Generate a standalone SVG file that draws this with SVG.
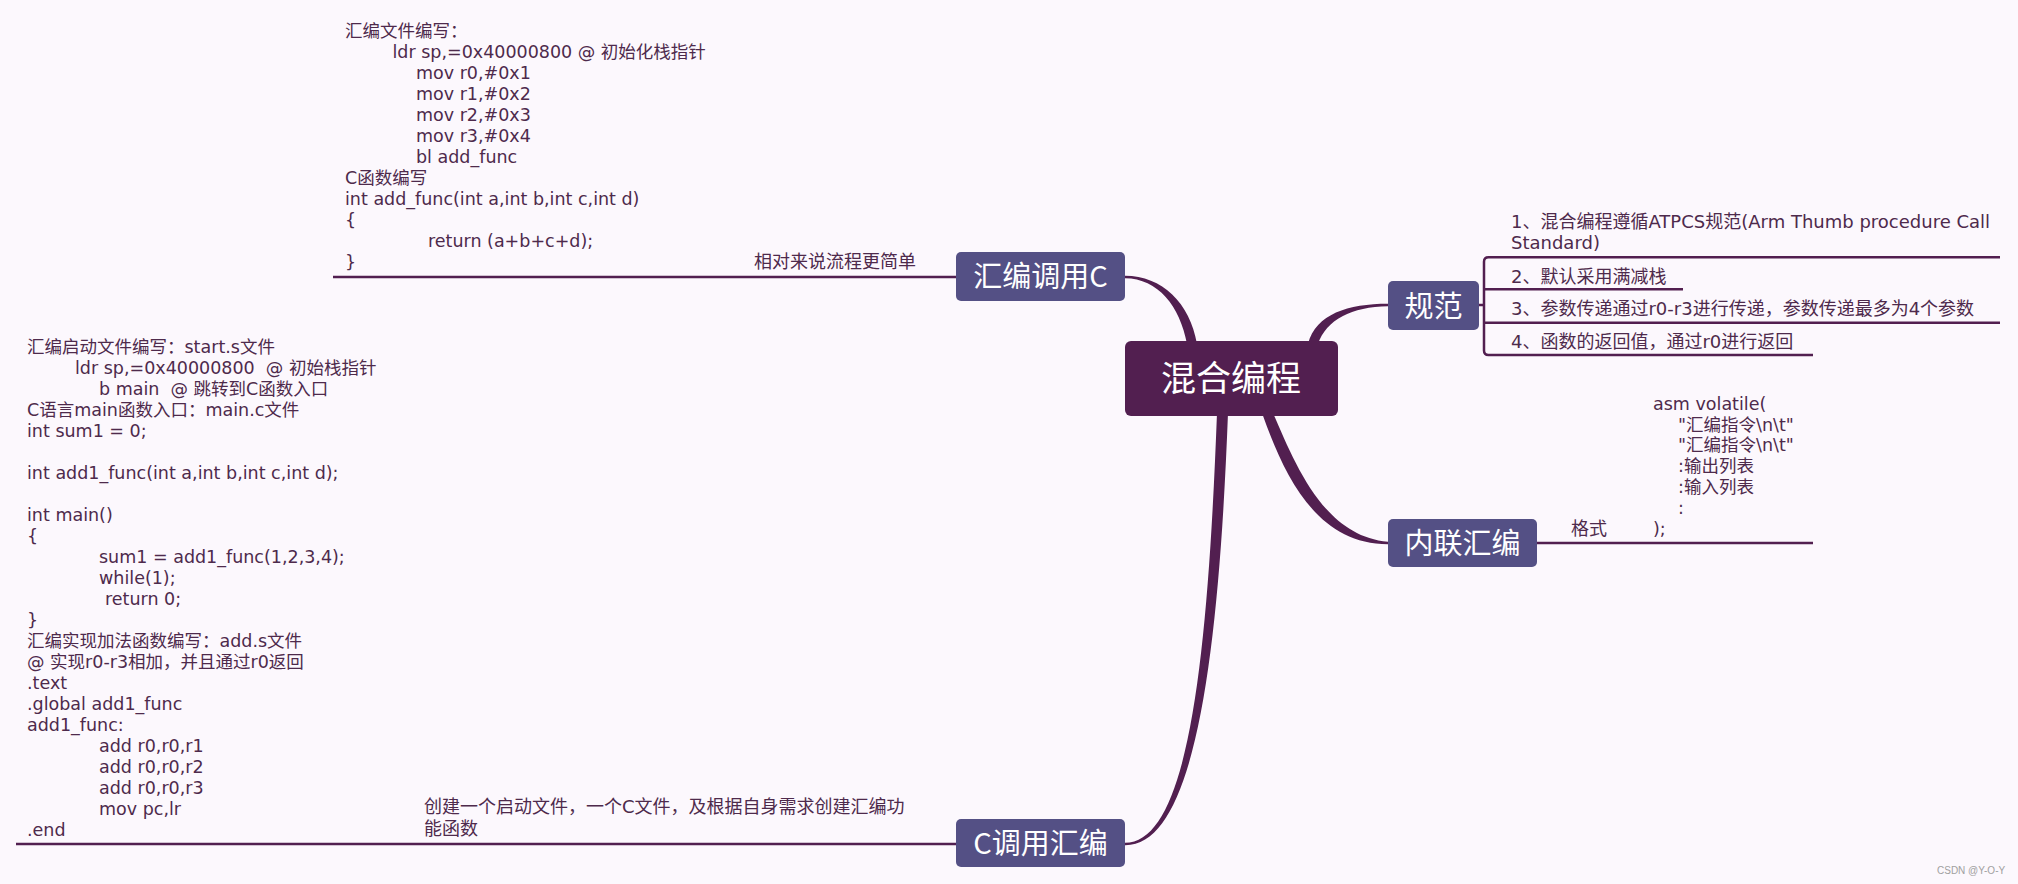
<svg xmlns="http://www.w3.org/2000/svg" width="2018" height="884" viewBox="0 0 2018 884">
<defs>
<style>
.bg{fill:#FCF8FD}
.code{font-family:"DejaVu Sans","Noto Sans CJK SC",sans-serif;font-size:17.5px;fill:#4E2A4C;white-space:pre}
.lbl{font-family:"DejaVu Sans","Noto Sans CJK SC",sans-serif;font-size:18px;fill:#4E2A4C;white-space:pre}
.topic rect{fill:#545085}
.topic text{font-family:"Noto Sans CJK SC","DejaVu Sans",sans-serif;font-size:29px;fill:#FFFFFF;text-anchor:middle}
.central rect{fill:#521F50}
.central text{font-family:"Noto Sans CJK SC","DejaVu Sans",sans-serif;font-size:35px;fill:#FFFFFF;text-anchor:middle}
.ln{fill:none;stroke:#521F50;stroke-width:2.5}
.br{fill:#521F50;stroke:none}
.wm{font-family:"Liberation Sans",Arial,sans-serif;font-size:10px;fill:#A0A0A0}
</style>
</defs>
<rect class="bg" x="0" y="0" width="2018" height="884"/>

<g id="connectors">
  <path class="br" d="M1197,344 C1190,303 1162,275.8 1125,275.8 L1125,278.2 C1158,278.5 1180,306 1187,344 Z"/>
  <path class="br" d="M1308,344 C1316,314 1348,303.8 1388,303.8 L1388,306.2 C1352,306.5 1326,320 1318,344 Z"/>
  <path class="br" d="M1262,413 C1284,475 1316,544.2 1388,544.2 L1388,541.8 C1324,536 1296,466 1273,413 Z"/>
  <path class="br" d="M1217,413 C1208,650 1190,842.8 1125,842.8 L1125,845.2 C1196,846 1219,650 1228,413 Z"/>
  <path class="ln" d="M333,277 H956"/>
  <path class="ln" d="M16,844 H956"/>
  <path class="ln" d="M1537,543 H1813"/>
  <path class="ln" d="M1479,305 H1484"/>
  <path class="ln" d="M2000,257.3 H1488.5 Q1484,257.3 1484,261.8 V350.5 Q1484,355 1488.5,355 H1813"/>
  <path class="ln" d="M1484,289.3 H1683"/>
  <path class="ln" d="M1484,322.7 H2000"/>
</g>

<g id="central" class="central">
  <rect x="1125" y="341" width="213" height="75" rx="6"/>
  <text x="1231" y="391">混合编程</text>
</g>

<g id="node-asm-call-c" class="topic">
  <rect x="956" y="252" width="169" height="49" rx="5"/>
  <text x="1040.5" y="287">汇编调用C</text>
</g>

<g id="node-c-call-asm" class="topic">
  <rect x="956" y="819" width="169" height="48" rx="5"/>
  <text x="1040.5" y="853.5">C调用汇编</text>
</g>

<g id="node-spec" class="topic">
  <rect x="1388" y="281" width="91" height="49" rx="5"/>
  <text x="1433.5" y="316.5">规范</text>
</g>

<g id="node-inline" class="topic">
  <rect x="1388" y="519" width="149" height="48" rx="5"/>
  <text x="1462.5" y="553.5">内联汇编</text>
</g>

<g id="asm-call-c-detail">
  <text class="code" x="345" y="37">汇编文件编写：</text>
  <text class="code" x="392.5" y="58">ldr sp,=0x40000800 @ 初始化栈指针</text>
  <text class="code" x="416" y="79">mov r0,#0x1</text>
  <text class="code" x="416" y="100">mov r1,#0x2</text>
  <text class="code" x="416" y="121">mov r2,#0x3</text>
  <text class="code" x="416" y="142">mov r3,#0x4</text>
  <text class="code" x="416" y="163">bl add_func</text>
  <text class="code" x="345" y="184">C函数编写</text>
  <text class="code" x="345" y="205">int add_func(int a,int b,int c,int d)</text>
  <text class="code" x="345" y="226">{</text>
  <text class="code" x="428" y="247">return (a+b+c+d);</text>
  <text class="code" x="345" y="268">}</text>
  <text class="lbl" x="754" y="268">相对来说流程更简单</text>
</g>

<g id="c-call-asm-detail">
  <text class="code" x="27" y="353">汇编启动文件编写：start.s文件</text>
  <text class="code" x="75" y="374">ldr sp,=0x40000800  @ 初始栈指针</text>
  <text class="code" x="99" y="395">b main  @ 跳转到C函数入口</text>
  <text class="code" x="27" y="416">C语言main函数入口：main.c文件</text>
  <text class="code" x="27" y="437">int sum1 = 0;</text>
  <text class="code" x="27" y="479">int add1_func(int a,int b,int c,int d);</text>
  <text class="code" x="27" y="521">int main()</text>
  <text class="code" x="27" y="542">{</text>
  <text class="code" x="99" y="563">sum1 = add1_func(1,2,3,4);</text>
  <text class="code" x="99" y="584">while(1);</text>
  <text class="code" x="105" y="605">return 0;</text>
  <text class="code" x="27" y="626">}</text>
  <text class="code" x="27" y="647">汇编实现加法函数编写：add.s文件</text>
  <text class="code" x="27" y="668">@ 实现r0-r3相加，并且通过r0返回</text>
  <text class="code" x="27" y="689">.text</text>
  <text class="code" x="27" y="710">.global add1_func</text>
  <text class="code" x="27" y="731">add1_func:</text>
  <text class="code" x="99" y="752">add r0,r0,r1</text>
  <text class="code" x="99" y="773">add r0,r0,r2</text>
  <text class="code" x="99" y="794">add r0,r0,r3</text>
  <text class="code" x="99" y="815">mov pc,lr</text>
  <text class="code" x="27" y="836">.end</text>
  <text class="lbl" x="424" y="813">创建一个启动文件，一个C文件，及根据自身需求创建汇编功</text>
  <text class="lbl" x="424" y="834.5">能函数</text>
</g>

<g id="spec-detail">
  <text class="lbl" x="1511" y="228">1、混合编程遵循ATPCS规范(Arm Thumb procedure Call</text>
  <text class="lbl" x="1511" y="249">Standard)</text>
  <text class="lbl" x="1511" y="282.5">2、默认采用满减栈</text>
  <text class="lbl" x="1511" y="315">3、参数传递通过r0-r3进行传递，参数传递最多为4个参数</text>
  <text class="lbl" x="1511" y="348">4、函数的返回值，通过r0进行返回</text>
</g>

<g id="inline-detail">
  <text class="lbl" x="1571" y="535">格式</text>
  <text class="code" x="1653" y="410">asm volatile(</text>
  <text class="code" x="1678" y="431">"汇编指令\n\t"</text>
  <text class="code" x="1678" y="451">"汇编指令\n\t"</text>
  <text class="code" x="1678" y="472">:输出列表</text>
  <text class="code" x="1678" y="493">:输入列表</text>
  <text class="code" x="1678" y="514">:</text>
  <text class="code" x="1653" y="535">);</text>
</g>

<text class="wm" x="1937" y="874">CSDN @Y-O-Y</text>
</svg>
